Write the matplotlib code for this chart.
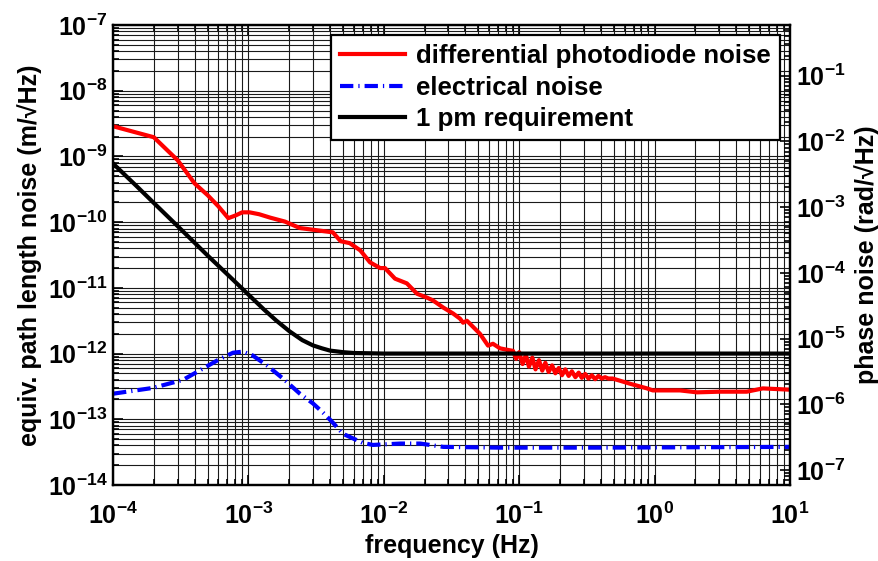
import matplotlib
matplotlib.use("Agg")
import matplotlib.pyplot as plt
import numpy as np
from matplotlib.ticker import LogLocator, NullFormatter, FuncFormatter

plt.rcParams['font.family'] = ['Liberation Sans', 'DejaVu Sans']
plt.rcParams['font.weight'] = 'bold'
plt.rcParams['mathtext.fontset'] = 'custom'
plt.rcParams['mathtext.rm'] = 'Liberation Sans:bold'
plt.rcParams['mathtext.bf'] = 'Liberation Sans:bold'
plt.rcParams['mathtext.it'] = 'Liberation Sans:bold'
plt.rcParams['mathtext.default'] = 'rm'

# differential photodiode noise (m/sqrt(Hz))
pd_freq = [1e-4, 2e-4, 3e-4, 4e-4, 5e-4, 6e-4, 7.1e-4, 8e-4, 9e-4, 1.02e-3,
           1.2e-3, 1.45e-3, 1.86e-3, 2.4e-3, 4.2e-3, 4.8e-3, 5.6e-3, 6.7e-3,
           7.9e-3, 9.4e-3, 0.0102, 0.0121, 0.0148, 0.0176, 0.0209, 0.023,
           0.0275, 0.0325, 0.0366, 0.0385, 0.0411, 0.0513, 0.0589, 0.064,
           0.0722, 0.0855,
           0.090, 0.095, 0.100, 0.106, 0.112, 0.118, 0.125, 0.132, 0.140,
           0.148, 0.156, 0.165, 0.175, 0.185, 0.196, 0.207, 0.219, 0.232,
           0.245, 0.260, 0.275, 0.290, 0.307, 0.325, 0.344, 0.364, 0.385,
           0.407, 0.431, 0.456,
           0.49, 0.66, 0.88, 0.97, 1.54, 2.06, 3.04, 4.8, 6.3, 10.0]
pd_noise = [2.88e-9, 1.96e-9, 8.75e-10, 3.89e-10, 2.57e-10, 1.74e-10, 1.15e-10,
            1.26e-10, 1.41e-10, 1.41e-10, 1.32e-10, 1.17e-10, 1.02e-10,
            8.13e-11, 7.0e-11, 5.13e-11, 4.79e-11, 3.72e-11, 2.45e-11, 2.0e-11,
            2.0e-11, 1.38e-11, 1.17e-11, 8.13e-12, 7.08e-12, 6.46e-12, 5.01e-12,
            4.07e-12, 3.39e-12, 2.95e-12, 3.16e-12, 2.0e-12, 1.32e-12, 1.41e-12,
            1.20e-12, 1.12e-12,
            1.10e-12, 8.32e-13, 1.05e-12, 6.92e-13, 9.55e-13, 6.31e-13, 8.71e-13,
            5.75e-13, 7.94e-13, 5.50e-13, 7.24e-13, 5.25e-13, 6.61e-13, 5.01e-13,
            6.03e-13, 4.68e-13, 5.75e-13, 4.57e-13, 5.37e-13, 4.37e-13, 5.13e-13,
            4.27e-13, 4.90e-13, 4.17e-13, 4.68e-13, 4.07e-13, 4.57e-13, 4.17e-13,
            4.37e-13, 4.17e-13,
            4.17e-13, 3.47e-13, 2.95e-13, 2.75e-13, 2.75e-13, 2.57e-13, 2.63e-13,
            2.63e-13, 2.95e-13, 2.82e-13]

# electrical noise
el_freq = [1e-4, 1.97e-4, 3.29e-4, 6.17e-4, 7.7e-4, 9.1e-4, 1.08e-3, 1.37e-3,
           1.8e-3, 2.4e-3, 3.0e-3, 3.56e-3, 4.2e-3, 5.0e-3, 7.0e-3, 8.3e-3,
           0.0132, 0.0186, 0.0275, 0.072, 0.4, 10.0]
el_noise = [2.45e-13, 3.0e-13, 3.98e-13, 8.3e-13, 1.03e-12, 1.07e-12, 9.3e-13,
            6.6e-13, 4.17e-13, 2.45e-13, 1.74e-13, 1.26e-13, 8.9e-14, 6.0e-14,
            4.37e-14, 4.07e-14, 4.27e-14, 4.27e-14, 3.8e-14, 3.7e-14, 3.7e-14,
            3.8e-14]

# 1 pm requirement
req_freq = [1e-4, 1.5e-4, 2e-4, 3e-4, 5e-4, 7e-4, 1e-3, 1.3e-3, 1.6e-3, 2e-3,
            2.5e-3, 3e-3, 3.5e-3, 4e-3, 5e-3, 6e-3, 8e-3, 1e-2, 0.1, 1.0, 10.0]
req_noise = [7.8e-10, 3.5e-10, 1.96e-10, 8.7e-11, 3.1e-11, 1.6e-11, 7.9e-12,
             4.7e-12, 3.2e-12, 2.2e-12, 1.6e-12, 1.33e-12, 1.2e-12, 1.11e-12,
             1.05e-12, 1.02e-12, 1.01e-12, 1.0e-12, 1.0e-12, 1.0e-12, 1.0e-12]

wavelength = 1.064e-6  # m -> rad conversion for right axis
FS = 18

fig = plt.figure(figsize=(8.79, 5.61), dpi=100)
ax = fig.add_axes([0.1286, 0.1355, 0.7701, 0.8199])

ax.loglog(pd_freq, pd_noise, color='red', lw=3, label='differential photodiode noise')
ax.loglog(el_freq, el_noise, color='blue', lw=3,
          linestyle=(0, (3.2, 1.2, 0.3, 1.2)), label='electrical noise')
ax.loglog(req_freq, req_noise, color='black', lw=3, label='1 pm requirement')

ax.set_xlim(1e-4, 10)
ax.set_ylim(1e-14, 1e-7)

fmt = FuncFormatter(lambda v, p: r'$10^{%d}$' % round(np.log10(v)))
for a in (ax.xaxis, ax.yaxis):
    a.set_major_locator(LogLocator(base=10, numticks=20))
    a.set_minor_locator(LogLocator(base=10, subs=np.arange(2, 10), numticks=20))
    a.set_major_formatter(fmt)
    a.set_minor_formatter(NullFormatter())

ax.grid(True, which='both', color='0.1', lw=0.8, ls='-')
ax.tick_params(which='both', direction='in', top=True, right=False,
               labelsize=FS, width=1.2)
ax.tick_params(which='major', length=7)
ax.tick_params(which='minor', length=4)
ax.tick_params(axis='x', which='major', pad=13)
ax.tick_params(axis='y', which='major', pad=4)
for s in ax.spines.values():
    s.set_linewidth(1.6)

ax.set_xlabel('frequency (Hz)', fontsize=FS, fontweight='bold', labelpad=3)
ax.set_ylabel('equiv. path length noise (m/\u221aHz)', fontsize=FS,
              fontweight='bold', labelpad=4)

ax2 = ax.twinx()
k = 2 * np.pi / wavelength
ax2.set_yscale('log')
ax2.set_ylim(1e-14 * k, 1e-7 * k)
ax2.yaxis.set_major_locator(LogLocator(base=10, numticks=20))
ax2.yaxis.set_minor_locator(LogLocator(base=10, subs=np.arange(2, 10), numticks=20))
ax2.yaxis.set_major_formatter(fmt)
ax2.yaxis.set_minor_formatter(NullFormatter())
ax2.tick_params(which='both', direction='in', labelsize=FS, width=1.2)
ax2.tick_params(which='major', length=7, pad=4)
ax2.tick_params(which='minor', length=4)
ax2.set_ylabel('phase noise (rad/\u221aHz)', fontsize=FS, fontweight='bold',
               labelpad=6)
for s in ax2.spines.values():
    s.set_linewidth(1.6)

handles, labels = ax.get_legend_handles_labels()
leg = ax2.legend(handles, labels, loc='upper right', fontsize=18.6, fancybox=False,
                 framealpha=1, edgecolor='black', handlelength=2.5,
                 borderaxespad=0.4, labelspacing=0.28, borderpad=0.35,
                 handletextpad=0.42)
leg.get_frame().set_linewidth(1.6)

fig.savefig('out.png', dpi=100)
